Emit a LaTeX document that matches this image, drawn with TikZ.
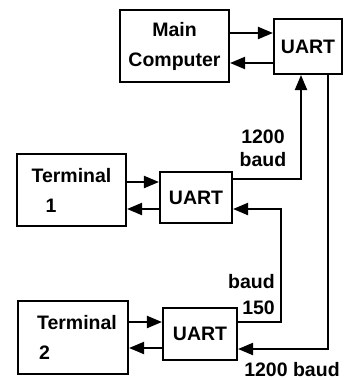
\documentclass[tikz,border=0pt]{standalone}
\usepackage{fontspec}
\setmainfont{Liberation Sans}
\usetikzlibrary{arrows.meta}
\begin{document}
\begin{tikzpicture}[x=1pt,y=-1pt,
  box/.style={draw,line width=2.1pt,inner sep=0pt},
  txt/.style={font=\bfseries\fontsize{19.5}{30}\selectfont},
  lbl/.style={font=\bfseries\fontsize{19.5}{23}\selectfont,inner sep=0pt},
  ln/.style={line width=2.1pt},
  arr/.style={ln,-{Triangle[length=15pt,width=12pt]}}]
\useasboundingbox (0,0) rectangle (351,380);
% boxes
\node[box,txt,align=center,minimum width=109pt,minimum height=72pt] (MC) at (174.5,46) {Main\\Computer};
\node[box,txt,minimum width=68pt,minimum height=55pt] (U0) at (308,46.5) {UART};
\node[box,txt,align=left,minimum width=109pt,minimum height=72pt] (T1) at (71.5,190) {Terminal\\\hspace*{14pt}1};
\node[box,txt,minimum width=72pt,minimum height=51pt] (U1) at (196,197.5) {UART};
\node[box,txt,align=left,minimum width=110pt,minimum height=73pt] (T2) at (73,337.5) {\hspace*{8pt}Terminal\\\hspace*{10pt}2};
\node[box,txt,minimum width=74pt,minimum height=52pt] (U2) at (200,334) {UART};
% short arrows
\draw[arr] (MC.east|-0,33) -- (U0.west|-0,33);
\draw[arr] (U0.west|-0,63) -- (MC.east|-0,63);
\draw[arr] (T1.east|-0,182) -- (U1.west|-0,182);
\draw[arr] (U1.west|-0,209) -- (T1.east|-0,209);
\draw[arr] (T2.east|-0,322) -- (U2.west|-0,322);
\draw[arr] (U2.west|-0,348) -- (T2.east|-0,348);
% long lines
\coordinate (a) at (301,179);
\draw[arr] (U1.east|-a) -| (U0.south-|a);
\coordinate (b) at (328,349);
\draw[arr] (U0.south-|b) |- (U2.east|-b);
\coordinate (c) at (281,322);
\coordinate (c2) at (281,209);
\draw[arr] (U2.east|-c) -- (c) -- (c2) -- (U1.east|-c2);
% labels
\node[lbl,align=center] (l1) at (263,148) {1200\\baud};
\node[lbl,align=right,anchor=east] (l2) at (275,295) {baud\\[3pt]150};
\node[lbl] (l3) at (292,370) {1200 baud};
\end{tikzpicture}
\end{document}
